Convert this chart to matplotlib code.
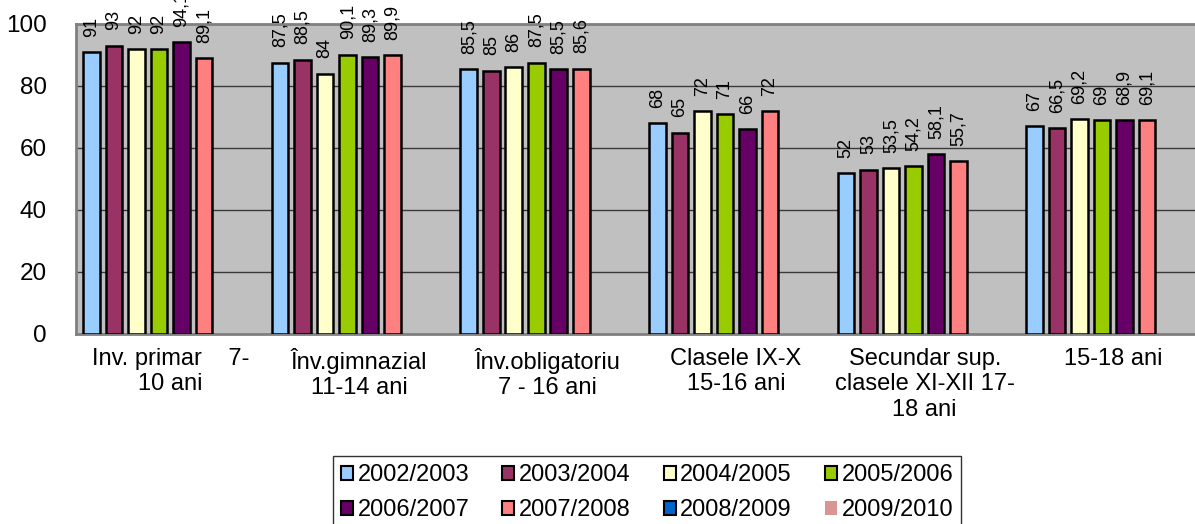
import numpy as np
import matplotlib.pyplot as plt
from matplotlib.patches import Patch

plt.rcParams['font.family'] = ['Liberation Sans', 'DejaVu Sans']

categories = ["Inv. primar    7-\n10 ani", "Înv.gimnazial\n11-14 ani", "Înv.obligatoriu\n7 - 16 ani",
              "Clasele IX-X\n15-16 ani", "Secundar sup.\nclasele XI-XII 17-\n18 ani", "15-18 ani"]
series = ["2002/2003", "2003/2004", "2004/2005", "2005/2006",
          "2006/2007", "2007/2008", "2008/2009", "2009/2010"]
colors = ['#99CCFF', '#993366', '#FFFFCC', '#99CC00', '#660066', '#FF8080', '#0066CC', '#D99594']

v_2002 = [91, 87.5, 85.5, 68, 52, 67]
v_2003 = [93, 88.5, 85, 65, 53, 66.5]
v_2004 = [92, 84, 86, 72, 53.5, 69.2]
v_2005 = [92, 90.1, 87.5, 71, 54.2, 69]
v_2006 = [94.1, 89.3, 85.5, 66, 58.1, 68.9]
v_2007 = [89.1, 89.9, 85.6, 72, 55.7, 69.1]
values = [v_2002, v_2003, v_2004, v_2005, v_2006, v_2007, [], []]

def fmt(v):
    return ("%g" % v).replace('.', ',')

fig = plt.figure(figsize=(11.95, 5.24), dpi=100)
# plot area runs past the right edge of the picture, like the original
ax = fig.add_axes([76/1195, 190/524, 1131.6/1195, 310/524])
ax.set_facecolor('#C0C0C0')

nser = len(series)
slot = 0.1193
start = (1 - nser*slot)/2
bw = 0.088
idx = np.arange(len(categories))

handles = []
for j in range(nser):
    vals = values[j]
    if j < 7:
        handles.append(Patch(facecolor=colors[j], edgecolor='black', linewidth=1.5, label=series[j]))
    else:
        handles.append(Patch(facecolor=colors[j], edgecolor='none', label=series[j]))
    if len(vals) == 0:
        continue
    x = idx + start + slot*(j + 0.5)
    ax.bar(x, vals, bw, color=colors[j], edgecolor='black', linewidth=1.8, zorder=3)
    for xi, v in zip(x, vals):
        ax.annotate(fmt(v), (xi, v), xytext=(0, 11), textcoords='offset points',
                    rotation=90, ha='center', va='bottom', fontsize=13, annotation_clip=False)

ax.set_xlim(0, len(categories))
ax.set_ylim(0, 100)
ax.set_yticks([0, 20, 40, 60, 80, 100])
ax.yaxis.grid(True, color='#3a3a3a', linewidth=1.0, zorder=1)
ax.set_axisbelow(True)
ax.tick_params(axis='y', length=0, pad=21, labelsize=17.5)
ax.set_xticks(idx + 0.5)
ax.set_xticklabels(categories, fontsize=17, linespacing=1.2)
ax.tick_params(axis='x', length=0, pad=10)
for s in ['left', 'top', 'bottom', 'right']:
    ax.spines[s].set_color('#808080')
    ax.spines[s].set_linewidth(2)

# row-major order like the original legend
order = [0, 4, 1, 5, 2, 6, 3, 7]
leg = fig.legend([handles[i] for i in order], [series[i] for i in order], ncol=4,
                 loc='upper center', bbox_to_anchor=(0.5415, 0.152),
                 fontsize=17, frameon=True, fancybox=False, edgecolor='black',
                 handlelength=0.5, handleheight=0.5, handletextpad=0.2,
                 columnspacing=1.4, labelspacing=0.55, borderpad=0.35)
leg.get_frame().set_linewidth(1.0)

fig.savefig("out.png", dpi=100)
